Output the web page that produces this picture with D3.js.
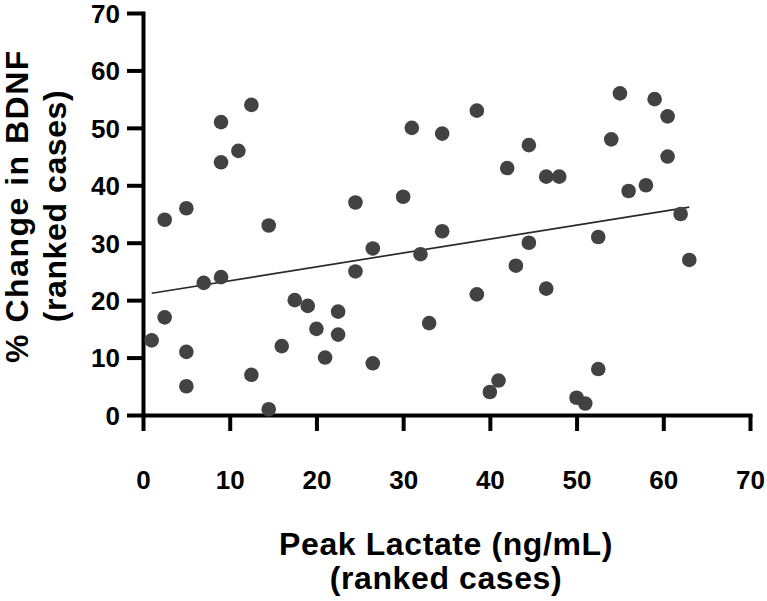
<!DOCTYPE html>
<html>
<head>
<meta charset="utf-8">
<script src="https://cdn.jsdelivr.net/npm/d3@7"></script>
<style>
  html, body { margin: 0; padding: 0; background: #fff; }
  svg { display: block; }
  text { font-family: "Liberation Sans", Arial, Helvetica, sans-serif; font-weight: bold; fill: #000; }
</style>
</head>
<body>
<svg id="chart" width="767" height="601"></svg>
<script>
// Peak lactate rank (x) and % change in BDNF rank (y)
const lactateRank = [1, 2.5, 2.5, 5, 5, 5, 7, 9, 9, 9, 11, 12.5, 12.5, 14.5, 14.5, 16, 17.5, 19, 20, 21,
  22.5, 22.5, 24.5, 24.5, 26.5, 26.5, 30, 31, 32, 33, 34.5, 34.5, 38.5, 38.5, 40, 41, 42, 43, 44.5, 44.5,
  46.5, 46.5, 48, 50, 51, 52.5, 52.5, 54, 55, 56, 58, 59, 60.5, 60.5, 62, 63];
const bdnfRank = [13, 17, 34, 36, 11, 5, 23, 24, 44, 51, 46, 54, 7, 33, 1, 12, 20, 19, 15, 10,
  18, 14, 25, 37, 29, 9, 38, 50, 28, 16, 49, 32, 53, 21, 4, 6, 43, 26, 47, 30,
  41.5, 22, 41.5, 3, 2, 31, 8, 48, 56, 39, 40, 55, 52, 45, 35, 27];
// fitted regression line end points
const fitX = [1, 63];
const fitY = [21.2, 36.2];
const xTicks = [0, 10, 20, 30, 40, 50, 60, 70];
const yTicks = [0, 10, 20, 30, 40, 50, 60, 70];
const xTitle = ["Peak Lactate (ng/mL)", "(ranked cases)"];
const yTitle = ["% Change in BDNF", "(ranked cases)"];

const svg = d3.select("#chart");
const x = d3.scaleLinear().domain([0, 70]).range([143, 750]);
const y = d3.scaleLinear().domain([0, 70]).range([415, 13]);

const xAxis = svg.append("g").attr("transform", "translate(0,415)")
  .call(d3.axisBottom(x).tickValues(xTicks).tickSize(16).tickSizeOuter(0).tickPadding(40));
const yAxis = svg.append("g").attr("transform", "translate(143,0)")
  .call(d3.axisLeft(y).tickValues(yTicks).tickSize(16).tickSizeOuter(0).tickPadding(7));

[xAxis, yAxis].forEach(g => {
  g.select(".domain").attr("stroke", "#000").attr("stroke-width", 4).attr("stroke-linecap", "square");
  g.selectAll(".tick line").attr("stroke", "#000").attr("stroke-width", 4);
  g.selectAll(".tick text").attr("fill", "#000")
    .style("font-family", '"Liberation Sans", Arial, sans-serif')
    .style("font-weight", "bold").style("font-size", "26px");
});
xAxis.selectAll(".tick text").attr("dy", "0").attr("y", 0)
  .attr("transform", "translate(0,489)".replace("489", "74"));
yAxis.selectAll(".tick text").attr("dy", "0.36em");

// regression line
svg.append("line")
  .attr("x1", x(fitX[0])).attr("y1", y(fitY[0]))
  .attr("x2", x(fitX[1])).attr("y2", y(fitY[1]))
  .attr("stroke", "#2a2a2a").attr("stroke-width", 1.7);

// points
const pts = lactateRank.map((v, i) => ({ x: v, y: bdnfRank[i] }));
svg.append("g").selectAll("circle").data(pts).enter().append("circle")
  .attr("cx", d => x(d.x)).attr("cy", d => y(d.y)).attr("r", 7.3)
  .attr("fill", "#424242");

// x title
svg.append("text").attr("x", 446).attr("y", 555).attr("text-anchor", "middle")
  .style("font-size", "32px").style("letter-spacing", "0.6px").text(xTitle[0]);
svg.append("text").attr("x", 446).attr("y", 589).attr("text-anchor", "middle")
  .style("font-size", "32px").style("letter-spacing", "0.6px").text(xTitle[1]);

// y title
const yt = svg.append("g").attr("transform", "translate(0,206) rotate(-90)");
yt.append("text").attr("x", 0).attr("y", 28).attr("text-anchor", "middle")
  .style("font-size", "32px").style("letter-spacing", "1.5px").text(yTitle[0]);
yt.append("text").attr("x", 0).attr("y", 66).attr("text-anchor", "middle")
  .style("font-size", "32px").style("letter-spacing", "0.6px").text(yTitle[1]);
</script>
</body>
</html>
